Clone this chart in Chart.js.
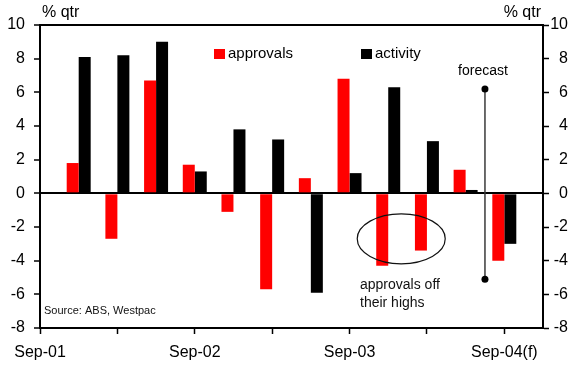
<!DOCTYPE html>
<html>
<head>
<meta charset="utf-8">
<script src="https://cdn.jsdelivr.net/npm/chart.js@4/dist/chart.umd.min.js"></script>
<style>
  html, body { margin: 0; padding: 0; background: #fff; }
  #wrap { width: 573px; height: 365px; }
</style>
</head>
<body>
<div id="wrap"><canvas id="c" width="573" height="365"></canvas></div>
<script>
// Quarterly change, % qtr. Sep-01 and Dec-04 only frame the axis.
const quarters = ['Sep-01', 'Dec-01', 'Mar-02', 'Jun-02', 'Sep-02', 'Dec-02', 'Mar-03',
                  'Jun-03', 'Sep-03', 'Dec-03', 'Mar-04', 'Jun-04', 'Sep-04(f)', 'Dec-04'];
const approvals = [null, 1.8, -2.7, 6.7, 1.7, -1.1, -5.7, 0.9, 6.8, -4.3, -3.4, 1.4, -4.0, null];
const activity  = [null, 8.1, 8.2, 9.0, 1.3, 3.8, 3.2, -5.9, 1.2, 6.3, 3.1, 0.2, -3.0, null];
const yMin = -8, yMax = 10, yStep = 2;

const FONT = '"Liberation Sans", Arial, sans-serif';
Chart.defaults.font.family = FONT;
Chart.defaults.color = '#000';

// Legend, captions, forecast marker and callout drawn on top of the plot
const overlay = {
  id: 'overlay',
  afterDraw(chart) {
    const { ctx, chartArea: a, scales } = chart;
    const x = scales.x, y = scales.y;
    ctx.save();

    // frame top edge
    ctx.strokeStyle = '#000';
    ctx.lineWidth = 2;
    ctx.beginPath();
    ctx.moveTo(a.left - 1, a.top);
    ctx.lineTo(a.right + 1, a.top);
    ctx.stroke();

    // axis unit captions
    ctx.fillStyle = '#000';
    ctx.font = '16px ' + FONT;
    ctx.textBaseline = 'alphabetic';
    ctx.textAlign = 'left';
    ctx.fillText('% qtr', a.left + 2, 17);
    ctx.textAlign = 'right';
    ctx.fillText('% qtr', a.right - 2, 17);

    // legend
    ctx.font = '15px ' + FONT;
    ctx.textAlign = 'left';
    ctx.textBaseline = 'middle';
    const legendPos = [214, 361];
    chart.data.datasets.forEach((ds, i) => {
      const lx = legendPos[i], ly = 49;
      ctx.fillStyle = ds.backgroundColor;
      ctx.fillRect(lx, ly, 11, 10);
      ctx.fillStyle = '#000';
      ctx.fillText(ds.label, lx + 14, ly + 5);
    });

    // forecast divider, between the last actual quarter and the forecast
    const fx = (x.getPixelForValue(11) + x.getPixelForValue(12)) / 2;
    const fTop = y.getPixelForValue(6.2), fBot = y.getPixelForValue(-5.1);
    ctx.strokeStyle = '#3a3a3a';
    ctx.lineWidth = 1.5;
    ctx.beginPath();
    ctx.moveTo(fx, fTop);
    ctx.lineTo(fx, fBot);
    ctx.stroke();
    ctx.fillStyle = '#000';
    [fTop, fBot].forEach(py => {
      ctx.beginPath();
      ctx.arc(fx, py, 3.5, 0, Math.PI * 2);
      ctx.fill();
    });
    ctx.font = '14px ' + FONT;
    ctx.textAlign = 'center';
    ctx.fillText('forecast', fx - 2, 71);

    // callout ellipse round the recent approvals
    const ex = x.getPixelForValue(9) + 13, ey = y.getPixelForValue(-2.7);
    ctx.strokeStyle = '#111';
    ctx.lineWidth = 1.2;
    ctx.beginPath();
    ctx.ellipse(ex, ey, 44, 25, 0, 0, Math.PI * 2);
    ctx.stroke();
    ctx.textAlign = 'left';
    ctx.textBaseline = 'alphabetic';
    ctx.fillStyle = '#111';
    ctx.fillText('approvals off', 360, 289);
    ctx.fillText('their highs', 360, 307);

    // source note
    ctx.font = '11px ' + FONT;
    ctx.textBaseline = 'middle';
    ctx.fillText('Source: ABS, Westpac', a.left + 4, 311);

    ctx.restore();
  }
};

const yTickCb = v => String(v);

new Chart(document.getElementById('c'), {
  type: 'bar',
  data: {
    labels: quarters,
    datasets: [
      { label: 'approvals', data: approvals, backgroundColor: '#ff0000' },
      { label: 'activity',  data: activity,  backgroundColor: '#000000' }
    ]
  },
  options: {
    responsive: false,
    animation: false,
    devicePixelRatio: 1,
    layout: { padding: { top: 25, right: 5, left: 0, bottom: 0 } },
    datasets: { bar: { categoryPercentage: 0.62, barPercentage: 1.0 } },
    plugins: { legend: { display: false }, tooltip: { enabled: false } },
    scales: {
      x: {
        type: 'category',
        offset: false,
        afterFit: s => { s.height = 37; },
        border: { display: true, color: '#000', width: 2 },
        grid: {
          offset: false,
          drawOnChartArea: false,
          tickLength: 6,
          tickWidth: 1.5,
          tickColor: c => (c.index % 2 === 0 && c.index < quarters.length - 1) ? '#000' : 'rgba(0,0,0,0)'
        },
        ticks: {
          autoSkip: false,
          maxRotation: 0,
          padding: 9,
          font: { size: 16 },
          callback: (v, i) => (i % 4 === 0 ? quarters[i] : '')
        }
      },
      y: {
        position: 'left',
        min: yMin, max: yMax,
        z: 1,
        afterFit: s => { s.width = 40; },
        border: { display: true, color: '#000', width: 2 },
        grid: {
          drawOnChartArea: true,
          tickLength: 6,
          tickWidth: 1.5,
          lineWidth: 2,
          color: c => (c.tick && c.tick.value === 0 ? '#000' : 'rgba(0,0,0,0)'),
          tickColor: '#000'
        },
        ticks: { stepSize: yStep, padding: 9, font: { size: 16 }, callback: yTickCb }
      },
      y2: {
        position: 'right',
        min: yMin, max: yMax,
        afterFit: s => { s.width = 25; },
        border: { display: true, color: '#000', width: 2 },
        grid: { drawOnChartArea: false, tickLength: 6, tickWidth: 1.5, tickColor: '#000' },
        ticks: { stepSize: yStep, padding: 4, crossAlign: 'far', font: { size: 16 }, callback: yTickCb }
      }
    }
  },
  plugins: [overlay]
});
</script>
</body>
</html>
